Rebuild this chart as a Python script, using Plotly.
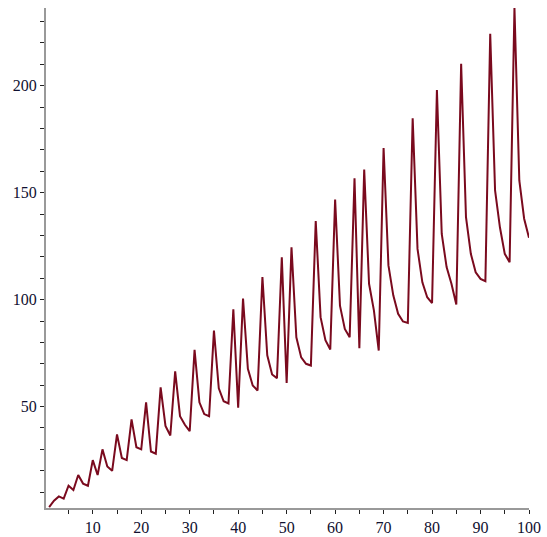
import plotly.graph_objects as go

n_values = list(range(1, 101))
seq_values = [
    3, 6, 8, 7, 13, 11, 18, 14, 13, 25,
    18, 30, 22, 20, 37, 26, 25, 44, 31, 30,
    52, 29, 28, 59, 41, 36.5, 66.5, 45.5, 41.5, 38.5,
    76.5, 52, 46.5, 45.5, 85.5, 58.5, 52.5, 51.5, 95.5, 49.5,
    100.5, 67.7, 59.9, 57.5, 110.5, 74, 65, 63.3, 119.8, 61,
    124.5, 82.4, 73, 70, 69.2, 136.7, 91.8, 81, 76.7, 146.8,
    97.2, 86.3, 82.4, 156.7, 77.3, 160.8, 107.4, 95, 76.2, 170.8,
    116, 102, 93.4, 89.8, 89.1, 184.8, 123.7, 108.1, 101.1, 98.4,
    198, 130.7, 115.2, 107.4, 97.7, 210.2, 138.5, 121.4, 112.8, 109.7,
    108.6, 224.2, 151, 133.8, 121.4, 117.5, 236.3, 155.7, 137.8, 128.9,
]
x_tick_vals = [10, 20, 30, 40, 50, 60, 70, 80, 90, 100]
y_tick_vals = [50, 100, 150, 200]

fig = go.Figure()
fig.add_trace(go.Scatter(
    x=n_values, y=seq_values, mode="lines",
    line=dict(color="#7a0a1e", width=2),
    hoverinfo="skip", showlegend=False,
))

font = dict(family="Liberation Serif", size=16, color="#101030")
axis_common = dict(
    showgrid=False, zeroline=False, showline=True, linecolor="#999999", linewidth=2,
    ticks="outside", ticklen=4, tickwidth=1, tickcolor="#222222",
    tickfont=font, mirror=False, automargin=False,
)
fig.update_xaxes(
    range=[0.35, 100], tickmode="array", tickvals=x_tick_vals,
    ticktext=[str(v) for v in x_tick_vals],
    minor=dict(dtick=5, tick0=0, ticks="outside", ticklen=4, tickwidth=1, tickcolor="#222222"),
    **axis_common,
)
fig.update_yaxes(
    range=[2.6, 236.3], tickmode="array", tickvals=y_tick_vals,
    ticktext=[str(v) for v in y_tick_vals],
    minor=dict(dtick=10, tick0=0, ticks="outside", ticklen=4, tickwidth=1, tickcolor="#222222"),
    **axis_common,
)
fig.update_layout(
    width=547, height=537,
    margin=dict(l=46, r=18, t=8, b=29),
    paper_bgcolor="white", plot_bgcolor="white",
)
fig.write_html(
    "out.html",
    config={"displayModeBar": False, "staticPlot": True},
    post_script="document.body.style.margin='0';document.body.style.overflow='hidden';",
)
